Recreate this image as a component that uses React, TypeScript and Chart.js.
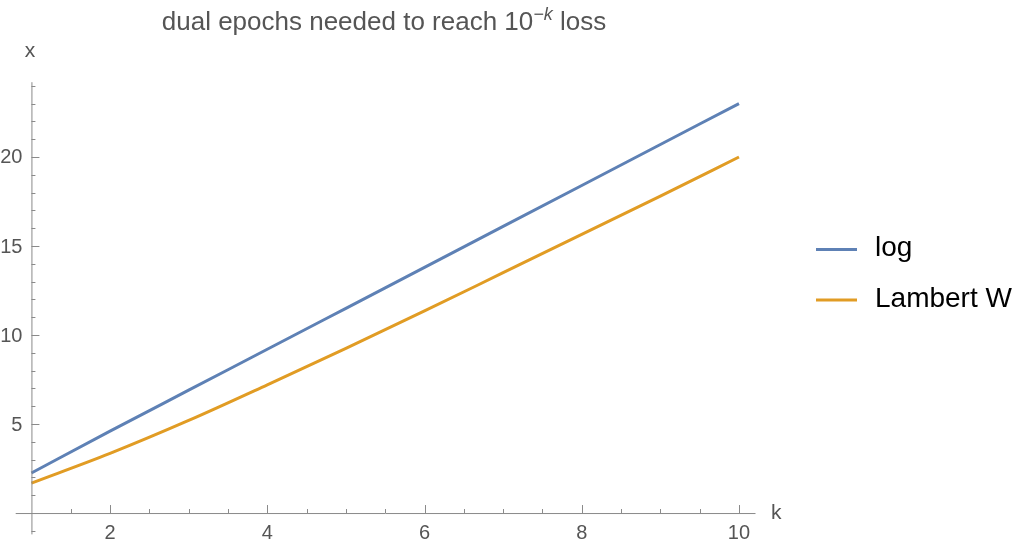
import { Chart, registerables } from 'chart.js';
import type { Plugin } from 'chart.js';
import { useEffect, useRef } from 'react';

Chart.register(...registerables);

const kValues = [1, 2, 3, 4, 5, 6, 7, 8, 9, 10];
const logValues = [2.25, 4.6, 6.9, 9.2, 11.5, 13.8, 16.1, 18.4, 20.7, 23.0];
const lambertValues = [1.68, 3.35, 5.2, 7.2, 9.25, 11.35, 13.5, 15.65, 17.8, 20.0];
const seriesLabels = ['log', 'Lambert W'];
const seriesColors = ['#5e81b5', '#e19c24'];
const xTickLabels = [2, 4, 6, 8, 10];
const yTickLabels = [5, 10, 15, 20];

const FONT = '"Liberation Sans", Arial, Helvetica, sans-serif';
const AXIS_COLOR = '#8a8a8a';
const LABEL_COLOR = '#555555';

// Mathematica-style axes crossing at (1, 0), title and legend
const decorPlugin: Plugin<'line'> = {
  id: 'decor',
  afterDraw(chart) {
    const { ctx, chartArea } = chart;
    const xs = chart.scales.x;
    const ys = chart.scales.y;
    const x0 = xs.getPixelForValue(1);
    const y0 = ys.getPixelForValue(0);

    ctx.save();
    ctx.strokeStyle = AXIS_COLOR;
    ctx.lineWidth = 1;

    ctx.beginPath();
    ctx.moveTo(chartArea.left, y0 + 0.5);
    ctx.lineTo(chartArea.right, y0 + 0.5);
    ctx.moveTo(x0 + 0.5, chartArea.top);
    ctx.lineTo(x0 + 0.5, chartArea.bottom);
    ctx.stroke();

    // x ticks
    ctx.beginPath();
    for (let k = 1.5; k <= 10.01; k += 0.5) {
      const px = Math.round(xs.getPixelForValue(k)) + 0.5;
      const major = xTickLabels.includes(k);
      ctx.moveTo(px, y0);
      ctx.lineTo(px, y0 - (major ? 8 : 4));
    }
    // y ticks
    for (let v = -1; v <= 24; v += 1) {
      if (v === 0) continue;
      const py = Math.round(ys.getPixelForValue(v)) + 0.5;
      const major = yTickLabels.includes(v);
      ctx.moveTo(x0, py);
      ctx.lineTo(x0 + (major ? 8 : 4), py);
    }
    ctx.stroke();

    ctx.fillStyle = LABEL_COLOR;
    ctx.font = `20px ${FONT}`;
    ctx.textAlign = 'center';
    ctx.textBaseline = 'middle';
    xTickLabels.forEach((k) => {
      ctx.fillText(String(k), xs.getPixelForValue(k), y0 + 20);
    });
    ctx.textAlign = 'right';
    yTickLabels.forEach((v) => {
      ctx.fillText(String(v), x0 - 9, ys.getPixelForValue(v) + 1);
    });

    // axis names
    ctx.font = `21px ${FONT}`;
    ctx.textAlign = 'left';
    ctx.fillText('k', 771, y0);
    ctx.textAlign = 'center';
    ctx.fillText('x', 30, 51);

    // title with superscript
    const main = 'dual epochs needed to reach 10';
    const sup = '\u2212k';
    const tail = ' loss';
    ctx.font = `26px ${FONT}`;
    const wMain = ctx.measureText(main).width;
    const wTail = ctx.measureText(tail).width;
    ctx.font = `italic 18px ${FONT}`;
    const wSup = ctx.measureText(sup).width;
    const total = wMain + wSup + wTail;
    let tx = 384 - total / 2;
    const base = 30;
    ctx.textAlign = 'left';
    ctx.textBaseline = 'alphabetic';
    ctx.fillStyle = LABEL_COLOR;
    ctx.font = `26px ${FONT}`;
    ctx.fillText(main, tx, base);
    tx += wMain;
    ctx.font = `italic 18px ${FONT}`;
    ctx.fillText(sup, tx, base - 10);
    tx += wSup;
    ctx.font = `26px ${FONT}`;
    ctx.fillText(tail, tx, base);

    // legend
    const legendY = [249.5, 300];
    ctx.font = `28px ${FONT}`;
    ctx.textBaseline = 'middle';
    chart.data.datasets.forEach((ds, i) => {
      ctx.strokeStyle = ds.borderColor as string;
      ctx.lineWidth = 3;
      ctx.beginPath();
      ctx.moveTo(816, legendY[i]);
      ctx.lineTo(857, legendY[i]);
      ctx.stroke();
      ctx.fillStyle = '#000000';
      ctx.fillText(ds.label ?? '', 875, legendY[i] - 1);
    });

    ctx.restore();
  },
};

function EpochsChart() {
  const canvasRef = useRef<HTMLCanvasElement>(null);

  useEffect(() => {
    const context = canvasRef.current?.getContext('2d');
    if (!context) return undefined;

    const chartInstance = new Chart(context, {
      type: 'line',
      data: {
        datasets: [
          {
            label: seriesLabels[0],
            data: kValues.map((k, i) => ({ x: k, y: logValues[i] })),
            borderColor: seriesColors[0],
            borderWidth: 3,
            pointRadius: 0,
            cubicInterpolationMode: 'monotone',
          },
          {
            label: seriesLabels[1],
            data: kValues.map((k, i) => ({ x: k, y: lambertValues[i] })),
            borderColor: seriesColors[1],
            borderWidth: 3,
            pointRadius: 0,
            cubicInterpolationMode: 'monotone',
          },
        ],
      },
      options: {
        animation: false,
        responsive: true,
        maintainAspectRatio: false,
        layout: {
          padding: { left: 15.7, right: 268.5, top: 82.2, bottom: 19.6 },
        },
        scales: {
          x: { type: 'linear', min: 0.8, max: 10.21, display: false },
          y: { type: 'linear', min: -1.2, max: 24.2, display: false },
        },
        plugins: {
          legend: { display: false },
          tooltip: { enabled: false },
        },
      },
      plugins: [decorPlugin],
    });

    return () => {
      chartInstance.destroy();
    };
  }, []);

  return (
    <div style={{ position: 'fixed', left: 0, top: 0, width: 1024, height: 554, background: '#fff' }}>
      <canvas ref={canvasRef}></canvas>
    </div>
  );
}

export default function App() {
  return <EpochsChart />;
}
